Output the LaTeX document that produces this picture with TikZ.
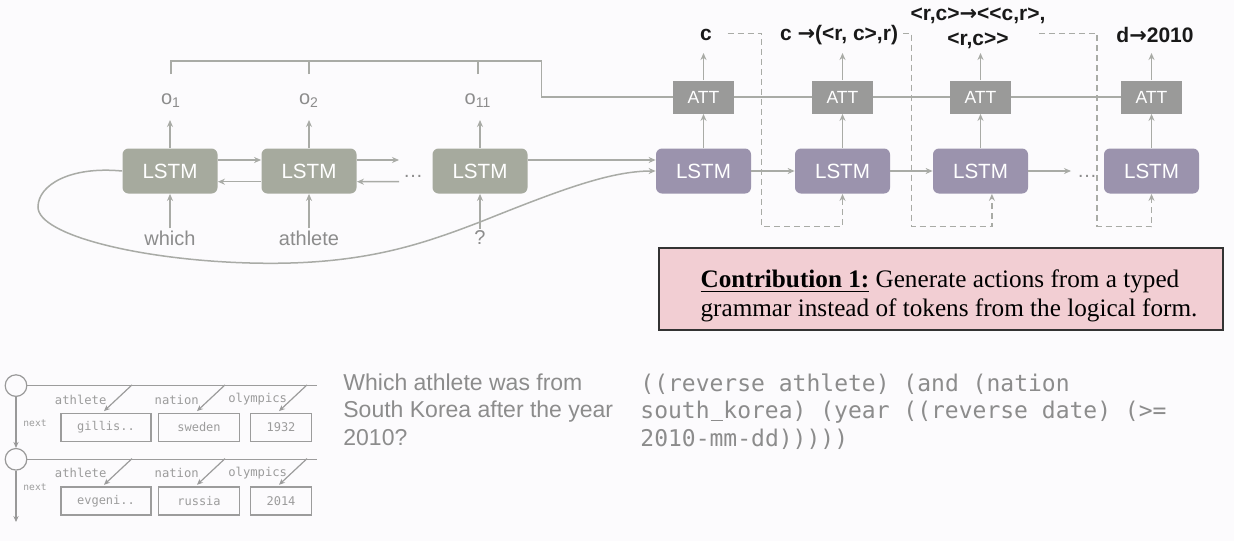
\documentclass[tikz,border=0pt]{standalone}
\usepackage{fontspec}
\setmainfont{Liberation Serif}
\setsansfont{Liberation Sans}
\setmonofont{DejaVu Sans Mono}
\newfontfamily\arrowfont{DejaVu Sans}
\newcommand\rarr{{\arrowfont\bfseries →}}
\newcommand\uscore{\kern0.04em\rule[-0.12em]{0.52em}{0.07em}\kern0.04em}
\usetikzlibrary{arrows.meta,calc}
\definecolor{bgc}{HTML}{FCFBFD}
\definecolor{encc}{HTML}{A6AA9E}
\definecolor{decc}{HTML}{9B93AD}
\definecolor{attc}{HTML}{9A9A99}
\definecolor{wirec}{HTML}{A9ABA6}
\definecolor{txtc}{HTML}{8C8C8C}
\definecolor{tgc}{HTML}{9C9C9C}
\definecolor{pinkc}{HTML}{F2CED3}

\begin{document}
\begin{tikzpicture}[x=0.5pt,y=-0.5pt,
  wire/.style={draw=wirec,line width=0.75pt},
  arr/.style={wire,-{Stealth[length=3.5pt,width=3pt]}},
  fb/.style={draw=wirec,line width=0.7pt,dash pattern=on 3pt off 2pt,-{Stealth[length=3.5pt,width=3pt]}},
  enc/.style={rectangle,rounded corners=3pt,fill=encc,text=white,minimum width=47.5pt,minimum height=22.5pt,font=\fontsize{10.3}{12}\selectfont\sffamily},
  dec/.style={enc,fill=decc},
  att/.style={rectangle,fill=attc,text=white,minimum width=30.5pt,minimum height=16.5pt,font=\fontsize{8.8}{10}\selectfont\sffamily},
  word/.style={text=txtc,font=\fontsize{10}{12}\selectfont\sffamily,inner sep=1pt},
  act/.style={text=black!90,font=\fontsize{10.5}{12.5}\selectfont\sffamily\bfseries,inner sep=1pt,align=center},
  tline/.style={draw=tgc,line width=0.6pt},
  tarr/.style={tline,-{Stealth[length=3pt,width=2.6pt]}},
  tcirc/.style={circle,draw=gray!80,line width=0.6pt,fill=bgc,minimum size=10.8pt,inner sep=0pt},
  cell/.style={rectangle,draw=tgc,line width=0.6pt,minimum height=14pt,text=tgc,font=\fontsize{6}{7}\selectfont\ttfamily},
  fld/.style={text=tgc,font=\fontsize{6.1}{7}\selectfont\ttfamily,inner sep=0.5pt},
  nxt/.style={text=tgc,font=\fontsize{4.8}{6}\selectfont\ttfamily,inner sep=0.5pt},
  qtext/.style={text=txtc,font=\fontsize{11.5}{13.75}\selectfont\sffamily,align=left,inner sep=0pt},
  lform/.style={text=txtc,font=\fontsize{11.5}{13.75}\selectfont\ttfamily,align=left,inner sep=0pt},
  contrib/.style={draw=black!80,line width=1pt,fill=pinkc,minimum width=282pt,minimum height=41pt},
  ctext/.style={align=left,inner sep=0pt,font=\fontsize{12.6}{14.2}\selectfont}]
  \fill[bgc] (0,0) rectangle (1234,541);
  \useasboundingbox (0,0) rectangle (1234,541);
  % encoder
  \node[enc] (e1) at (170,171) {LSTM};
  \node[enc] (e2) at (309,171) {LSTM};
  \node[enc] (e3) at (480,171) {LSTM};
  \node[word] (edots) at (413,176) {\dots};
  \node[word] (w1) at (170,238) {which};
  \node[word] (w2) at (309,238) {athlete};
  \node[word] (w3) at (480,238) {?};
  \node[word] (o1) at (171,101) {o\textsubscript{1}};
  \node[word] (o2) at (309,101) {o\textsubscript{2}};
  \node[word] (o3) at (478,101) {o\textsubscript{11}};
  \coordinate (otip) at (0,120);
  \coordinate (tick) at (0,74);
  \coordinate (brk) at (0,61);
  \coordinate (ea) at (399,160);
  \coordinate (eb) at (399,181.7);
  \foreach \i in {1,2,3} {
    \draw[arr] (w\i) -- (e\i);
    \draw[arr] (e\i.north) -- (e\i.north |- otip);
  }
  \draw[arr] ([yshift=5.5pt]e1.east) -- ([yshift=5.5pt]e2.west);
  \draw[arr] ([yshift=-5.35pt]e2.west) -- ([yshift=-5.35pt]e1.east);
  \draw[arr] ([yshift=5.5pt]e2.east) -- (ea);
  \draw[arr] (eb) -- ([yshift=-5.35pt]e2.east);
  % decoder
  \foreach \i/\x in {1/703.5,2/842.5,3/980.5,4/1151.5} {
    \node[dec] (d\i) at (\x,171) {LSTM};
    \node[att] (att\i) at (\x,97) {ATT};
    \draw[arr] (d\i) -- (att\i);
  }
  \node[word] (ddots) at (1087,176) {\dots};
  \coordinate (dend) at (1071,171);
  \coordinate (atip) at (0,53);
  \draw[arr] (d1) -- (d2);
  \draw[arr] (d2) -- (d3);
  \draw[arr] (d3) -- (dend);
  \foreach \i in {1,...,4} \draw[arr] (att\i.north) -- (att\i.north |- atip);
  % attention over encoder outputs
  \draw[wire] (o1 |- tick) -- (o1 |- brk) -- (541.5,61) |- (att1.west);
  \draw[wire] (o2 |- tick) -- (o2 |- brk);
  \draw[wire] (o3 |- tick) -- (o3 |- brk);
  \draw[wire] (att1) -- (att2);
  \draw[wire] (att2) -- (att3);
  \draw[wire] (att3) -- (att4);
  \draw[arr] ([yshift=5.5pt]e3.east) -- ([yshift=5.5pt]d1.west);
  \draw[arr] (e1.west) .. controls (70,166) and (38,185) .. (38,207)
    .. controls (38,235) and (140,260) .. (250,263)
    .. controls (360,266) and (420,245) .. (480,222)
    .. controls (560,190) and (610,171) .. (d1.west);
  % actions
  \node[act] (a1) at (706,35) {c};
  \node[act] (a2) at (839,35) {c \rarr(<r, c>,r)};
  \node[act] (a3) at (978,28) {<r,c>\rarr<\kern0pt<c,r>,\\<r,c>\kern0pt>};
  \node[act] (a4) at (1155,35) {d\rarr2010};
  \coordinate (s1) at (727.7,33.3);
  \coordinate (s2) at (903,33.3);
  \coordinate (s3) at (1039,33.3);
  \coordinate (k1) at (761.7,226.7);
  \coordinate (k2) at (911.7,226.7);
  \coordinate (k3) at (1097,226.7);
  \draw[fb] (s1) -| (k1) -| (d2.south);
  \draw[fb] (s2) -| (k2) -| ([xshift=5.7pt]d3.south);
  \draw[fb] (s3) -| (k3) -| (d4.south);
  % contribution
  \node[contrib] (cb) at (941,289) {};
  \node[ctext] (ct) at (949,296) {\underline{\textbf{Contribution 1:}} Generate actions from a typed\\grammar instead of tokens from the logical form.};
  % table
  \foreach \r/\dy/\ny/\a/\b/\c in {1/0/422.7/gillis../sweden/1932, 2/73.7/486.7/evgeni../russia/2014} {
    \node[tcirc] (n\r) at (16,385.6+\dy) {};
    \coordinate (re\r) at (317,385.6+\dy);
    \draw[tline] (n\r) -- (re\r);
    \node[fld] (fa\r) at (80.7,399.5+\dy) {athlete};
    \node[fld] (fn\r) at (176.7,399.5+\dy) {nation};
    \node[fld] (fo\r) at (257.7,399.5+\dy) {olympics};
    \node[cell,minimum width=45pt] (ca\r) at (106,427.2+\dy) {\a};
    \node[cell,minimum width=40.3pt] (cn\r) at (199,427.2+\dy) {\b};
    \node[cell,minimum width=30.5pt] (co\r) at (281,427.2+\dy) {\c};
    \foreach \bx in {ca\r,cn\r,co\r}
      \draw[tarr] ($(\bx.north)+(26,-27.7)$) -- ($(\bx.north)+(-2,-1.5)$);
    \node[nxt] (nx\r) at (35,\ny) {next};
  }
  \coordinate (tend) at (16,522);
  \draw[tarr,draw=gray!80] (n1) -- (n2);
  \draw[tarr,draw=gray!80] (n2) -- (tend);
  % question and logical form
  \node[qtext,anchor=north west] (q) at (343,373) {Which athlete was from\\South Korea after the year\\2010?};
  \node[lform,anchor=north west] (lf) at (640,373) {((reverse athlete) (and (nation\\south\uscore korea) (year ((reverse date) (>=\\2010-mm-dd)))))};
\end{tikzpicture}
\end{document}
